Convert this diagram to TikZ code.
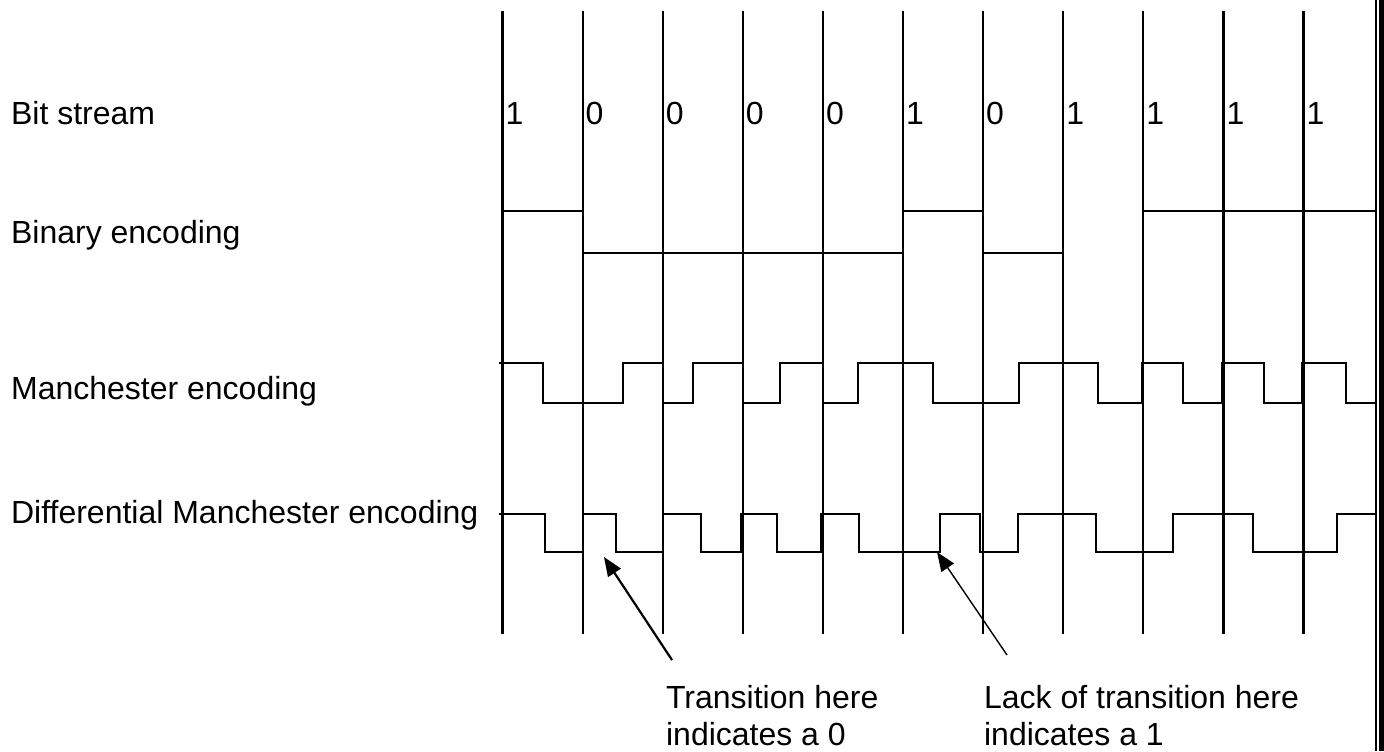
\documentclass[tikz,border=0pt]{standalone}
\usepackage{fontspec}
\setmainfont{Liberation Sans}
\usetikzlibrary{arrows.meta}

\begin{document}
\begin{tikzpicture}[x=0.5pt, y=-0.5pt, line width=1.1pt,
    font=\fontsize{16}{18.4}\selectfont,
    rowlabel/.style={anchor=base west, inner sep=0pt},
    note/.style={anchor=north west, inner sep=0pt, align=left},
    >={Triangle[length=9.5pt, width=7.5pt]}]
  \useasboundingbox (0,0) rectangle (1384,751);

  % row labels
  \node[rowlabel] (bits) at (10,124) {Bit stream};
  \node[rowlabel] (bin)  at (10,243) {Binary encoding};
  \node[rowlabel] (man)  at (10,399) {Manchester encoding};
  \node[rowlabel] (dman) at (10,523) {Differential Manchester encoding};

  % bit cells and bit values
  \foreach \b [count=\i from 0] in {1,0,0,0,0,1,0,1,1,1,1} {
    \draw (502.5+80.1*\i,11) -- (502.5+80.1*\i,634);
    \node[rowlabel] (b\i) at (504.5+80.1*\i,124) {\b};
  }

  % binary encoding
  \draw (503,211) -- (583,211);
  \draw (583,253) -- (904,253);
  \draw (904,211) -- (984,211);
  \draw (984,253) -- (1064,253);
  \draw (1144,211) -- (1376,211);

  % manchester encoding
  \draw (499,363) -| (543,403) -| (623,363) -| (663,403) -| (693,363)
    -| (743,403) -| (780,363) -| (823,403) -| (858,363) -| (933,403)
    -| (1019,363) -| (1098,403) -| (1142,363) -| (1183,403) -| (1222,363)
    -| (1264,403) -| (1302,363) -| (1346,403) -- (1376,403);

  % differential manchester encoding
  \draw (499,514) -| (545,552) -| (583,514) -| (616,552) -| (663,514)
    -| (701,552) -| (741,514) -| (777,552) -| (821,514) -| (859,552)
    -| (940,514) -| (980,552) -| (1018,514) -| (1096,552) -| (1173,514)
    -| (1253,552) -| (1337,514) -- (1376,514);

  % notes
  \node[note] (note0) at (665,684) {Transition here\\indicates a 0};
  \node[note] (note1) at (983,684) {Lack of transition here\\indicates a 1};
  \coordinate (tip0) at (604,557);
  \coordinate (tip1) at (937,552);
  \draw[->] ([shift={(7,-24)}]note0.north west) -- (tip0);
  \draw[->, line width=0.7pt] ([shift={(24,-29)}]note1.north west) -- (tip1);

  % page edge
  \draw (1376,0) -- (1376,751);
  \fill (1379,0) rectangle (1384,751);
\end{tikzpicture}
\end{document}
